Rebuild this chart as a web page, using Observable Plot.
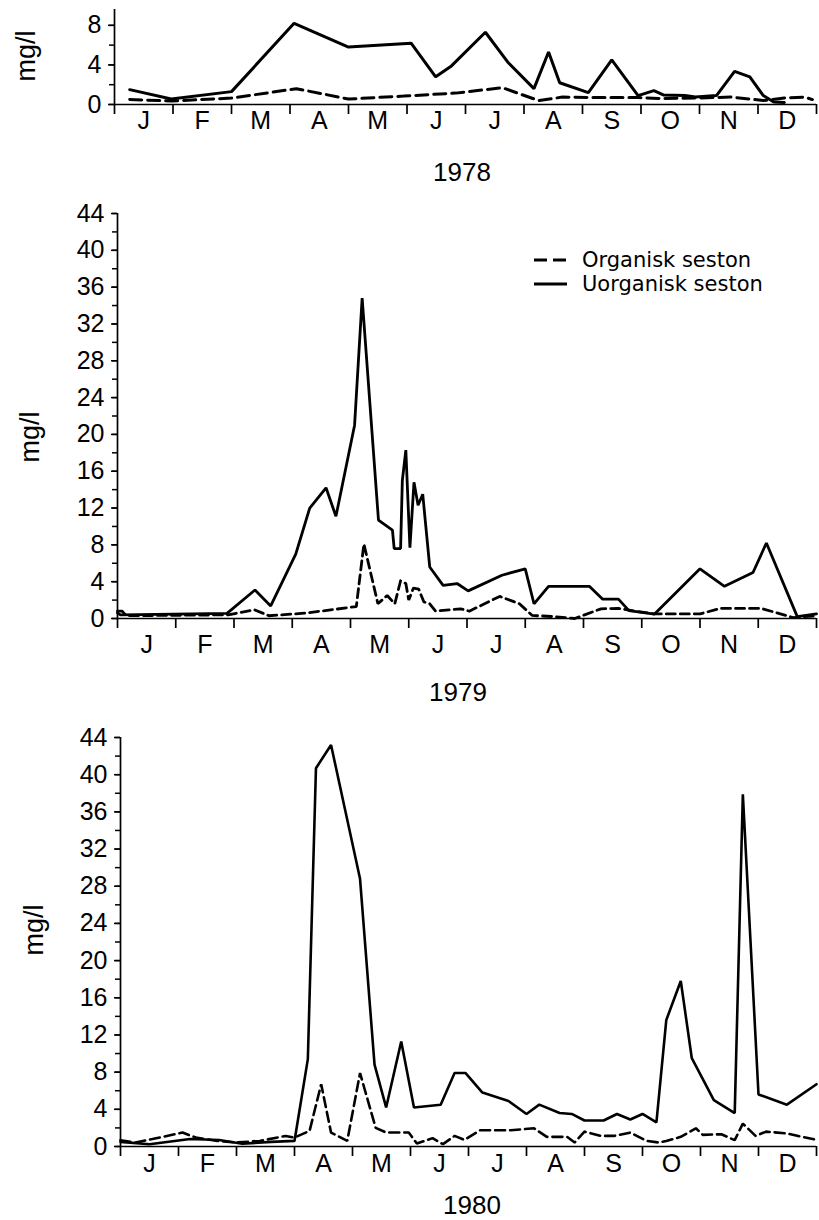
<!DOCTYPE html>
<html>
<head>
<meta charset="utf-8">
<script src="https://cdn.jsdelivr.net/npm/d3@7"></script>
<script src="https://cdn.jsdelivr.net/npm/@observablehq/plot@0.6"></script>
<style>
  body { margin: 0; background: #fff; }
  #root { position: relative; width: 819px; height: 1220px; overflow: hidden; background: #fff;
          font-family: "Liberation Sans", Arial, sans-serif; color: #000; }
  .panel { position: absolute; left: 0; }
  .year { position: absolute; font-size: 26px; transform: translate(-50%, -50%); white-space: nowrap; }
  .ylab { position: absolute; font-size: 27px; transform: translate(-50%, -50%) rotate(-90deg); white-space: nowrap; }
  .legend { position: absolute; font-family: "DejaVu Sans", sans-serif; font-size: 21px; line-height: 24px; }
  .legend div { display: flex; align-items: center; height: 24px; }
  .legend span { line-height: 24px; }
  .legend svg { margin-right: 14px; }
</style>
</head>
<body>
<div id="root"></div>
<script>
// ---- categories / labels ----
const months = ["J", "F", "M", "A", "M", "J", "J", "A", "S", "O", "N", "D"];
const seriesNames = ["Organisk seston", "Uorganisk seston"];
const years = ["1978", "1979", "1980"];
const yLabel = "mg/l";
const yTicks1978 = [0, 4, 8];
const yMinor1978 = [0, 2, 4, 6, 8];
const yTicksBig = [0, 4, 8, 12, 16, 20, 24, 28, 32, 36, 40, 44];
const yMinorBig = [0, 2, 4, 6, 8, 10, 12, 14, 16, 18, 20, 22, 24, 26, 28, 30, 32, 34, 36, 38, 40, 42, 44];

// ---- 1978 (time in months from 1 Jan) ----
const t1978U = [0.26, 0.97, 2.0, 3.07, 4.0, 5.07, 5.49, 5.76, 6.34, 6.72, 7.17, 7.42, 7.61, 8.10, 8.5, 8.95, 9.22, 9.39, 9.75, 9.93, 10.29, 10.6, 10.86, 11.09, 11.27, 11.45];
const v1978U = [1.5, 0.55, 1.3, 8.2, 5.8, 6.2, 2.8, 3.9, 7.3, 4.3, 1.6, 5.3, 2.2, 1.2, 4.5, 0.9, 1.4, 0.95, 0.9, 0.75, 0.9, 3.35, 2.8, 0.9, 0.25, 0.2];
const t1978O = [0.26, 0.97, 2.0, 3.11, 4.0, 4.94, 5.83, 6.63, 7.25, 7.66, 8.1, 8.95, 9.3, 9.93, 10.55, 11.09, 11.45, 11.8, 11.93];
const v1978O = [0.5, 0.35, 0.65, 1.6, 0.55, 0.85, 1.15, 1.7, 0.4, 0.75, 0.7, 0.7, 0.6, 0.65, 0.75, 0.4, 0.65, 0.75, 0.5];

// ---- 1979 ----
const t1979U = [0, 0.05, 1.88, 2.36, 2.63, 3.06, 3.3, 3.58, 3.75, 4.07, 4.2, 4.48, 4.72, 4.75, 4.86, 4.89, 4.95, 5.02, 5.09, 5.16, 5.24, 5.36, 5.59, 5.83, 6.02, 6.6, 7.0, 7.15, 7.4, 8.1, 8.33, 8.6, 8.78, 9.22, 10.0, 10.42, 10.91, 11.14, 11.67, 12.0];
const v1979U = [0.6, 0.4, 0.55, 3.1, 1.36, 7.0, 12.0, 14.2, 11.1, 21.0, 34.8, 10.7, 9.6, 7.6, 7.6, 15.0, 18.3, 7.7, 14.8, 12.3, 13.5, 5.6, 3.6, 3.8, 3.0, 4.7, 5.4, 1.6, 3.5, 3.5, 2.1, 2.1, 0.85, 0.48, 5.4, 3.5, 5.0, 8.2, 0.2, 0.5];
const t1979O = [0, 0.08, 0.15, 1.9, 2.35, 2.6, 3.25, 4.1, 4.23, 4.47, 4.63, 4.76, 4.86, 4.95, 5.0, 5.08, 5.17, 5.26, 5.36, 5.46, 5.89, 6.04, 6.56, 6.9, 7.12, 7.5, 7.85, 8.3, 8.6, 9.2, 10.0, 10.35, 11.05, 11.6, 12.0];
const v1979O = [0.8, 0.8, 0.3, 0.4, 0.95, 0.3, 0.6, 1.3, 8.1, 1.6, 2.5, 1.6, 4.1, 3.8, 2.0, 3.3, 3.2, 1.8, 1.6, 0.8, 1.05, 0.8, 2.4, 1.6, 0.33, 0.2, 0.0, 1.05, 1.1, 0.5, 0.5, 1.1, 1.1, 0.1, 0.3];

// ---- 1980 ----
const t1980U = [0, 0.5, 1.2, 1.7, 2.1, 2.6, 3.0, 3.23, 3.37, 3.63, 4.13, 4.38, 4.58, 4.84, 5.06, 5.52, 5.76, 5.95, 6.24, 6.69, 7.0, 7.22, 7.57, 7.78, 8.0, 8.33, 8.56, 8.79, 9.0, 9.24, 9.41, 9.66, 9.85, 10.23, 10.59, 10.73, 11.0, 11.49, 12.0];
const v1980U = [0.5, 0.25, 0.8, 0.7, 0.3, 0.5, 0.6, 9.4, 40.7, 43.2, 28.8, 8.8, 4.2, 11.3, 4.2, 4.5, 7.9, 7.9, 5.8, 4.9, 3.5, 4.5, 3.6, 3.5, 2.8, 2.8, 3.5, 2.9, 3.5, 2.6, 13.6, 17.8, 9.5, 5.0, 3.6, 37.9, 5.6, 4.5, 6.7];
const t1980O = [0, 0.26, 0.55, 1.07, 1.3, 1.67, 2.0, 2.4, 2.85, 3.0, 3.26, 3.46, 3.63, 3.91, 4.13, 4.4, 4.58, 4.97, 5.11, 5.38, 5.56, 5.76, 5.93, 6.2, 6.73, 7.13, 7.35, 7.7, 7.83, 8.0, 8.28, 8.51, 8.79, 9.07, 9.28, 9.41, 9.66, 9.92, 10.04, 10.36, 10.59, 10.73, 10.95, 11.13, 11.49, 12.0];
const v1980O = [0.68, 0.43, 0.8, 1.5, 0.96, 0.6, 0.43, 0.6, 1.14, 0.96, 1.68, 6.7, 1.5, 0.6, 7.9, 2.0, 1.5, 1.5, 0.32, 0.9, 0.25, 1.14, 0.71, 1.75, 1.75, 1.96, 1.04, 1.04, 0.43, 1.6, 1.14, 1.14, 1.5, 0.6, 0.43, 0.6, 1.04, 1.96, 1.25, 1.32, 0.68, 2.46, 1.14, 1.6, 1.4, 0.71];

const zip = (t, v) => t.map((d, i) => ({t: d, v: v[i]}));

function panel(cfg) {
  const height = cfg.marginTop + cfg.plotH + cfg.marginBottom;
  return Plot.plot({
    width: 819,
    height,
    marginLeft: cfg.marginLeft,
    marginRight: 3,
    marginTop: cfg.marginTop,
    marginBottom: cfg.marginBottom,
    x: {domain: [0, 12], label: null},
    y: {domain: [0, cfg.yMax], label: null},
    style: {fontFamily: "'Liberation Sans', Arial, sans-serif", fontSize: "25px", color: "#000", background: "#fff", overflow: "visible"},
    marks: [
      Plot.ruleY([0], {stroke: "#000", strokeWidth: 1.7}),
      Plot.ruleX([0], {y1: 0, y2: cfg.yMax, stroke: "#000", strokeWidth: 1.7}),
      Plot.axisX({ticks: d3.range(0, 13), tickSize: 10, tickFormat: () => "", strokeWidth: 1.7, label: null}),
      Plot.axisX({ticks: months.map((m, i) => i + 0.5), tickSize: 0, tickPadding: cfg.monthPad,
                  tickFormat: (d) => months[Math.floor(d)], fontSize: 25, label: null}),
      Plot.axisY({ticks: cfg.minor, tickSize: 5, tickFormat: () => "", strokeWidth: 1.5, label: null}),
      Plot.axisY({ticks: cfg.major, tickSize: 6, tickPadding: 7, fontSize: 25, strokeWidth: 1.5, label: null}),
      Plot.line(zip(cfg.tO, cfg.vO), {x: "t", y: "v", stroke: "#000", strokeWidth: cfg.sw,
                strokeDasharray: cfg.dash, strokeLinejoin: "miter", curve: "linear"}),
      Plot.line(zip(cfg.tU, cfg.vU), {x: "t", y: "v", stroke: "#000", strokeWidth: cfg.sw,
                strokeLinejoin: "miter", curve: "linear"})
    ]
  });
}

const root = document.getElementById("root");
function place(el, top) {
  el.classList.add("panel");
  el.style.top = top + "px";
  root.appendChild(el);
}

place(panel({marginLeft: 114, marginTop: 9, plotH: 95, marginBottom: 36, yMax: 9.6,
  major: yTicks1978, minor: yMinor1978, monthPad: 7, tU: t1978U, vU: v1978U, tO: t1978O, vO: v1978O,
  sw: 3, dash: "12,6"}), 0);
place(panel({marginLeft: 117, marginTop: 23, plotH: 405, marginBottom: 40, yMax: 44,
  major: yTicksBig, minor: yMinorBig, monthPad: 17, tU: t1979U, vU: v1979U, tO: t1979O, vO: v1979O,
  sw: 2.8, dash: "9,5"}), 190);
place(panel({marginLeft: 120, marginTop: 22, plotH: 409, marginBottom: 40, yMax: 44,
  major: yTicksBig, minor: yMinorBig, monthPad: 8, tU: t1980U, vU: v1980U, tO: t1980O, vO: v1980O,
  sw: 2.6, dash: "10,5"}), 715);

function label(cls, text, x, y) {
  const d = document.createElement("div");
  d.className = cls;
  d.textContent = text;
  d.style.left = x + "px";
  d.style.top = y + "px";
  root.appendChild(d);
}
label("year", years[0], 462, 172);
label("year", years[1], 458, 692);
label("year", years[2], 472, 1205);
label("ylab", yLabel, 26, 56);
label("ylab", yLabel, 30, 437);
label("ylab", yLabel, 34, 930);

// legend
const leg = document.createElement("div");
leg.className = "legend";
leg.style.left = "534px";
leg.style.top = "248px";
seriesNames.forEach((name, i) => {
  const row = document.createElement("div");
  const sw = d3.create("svg").attr("width", 34).attr("height", 10);
  sw.append("line").attr("x1", 0).attr("x2", 33).attr("y1", 5).attr("y2", 5)
    .attr("stroke", "#000").attr("stroke-width", 2.8)
    .attr("stroke-dasharray", i === 0 ? "13,6" : null);
  row.appendChild(sw.node());
  const s = document.createElement("span");
  s.textContent = name;
  row.appendChild(s);
  leg.appendChild(row);
});
root.appendChild(leg);
</script>
</body>
</html>
